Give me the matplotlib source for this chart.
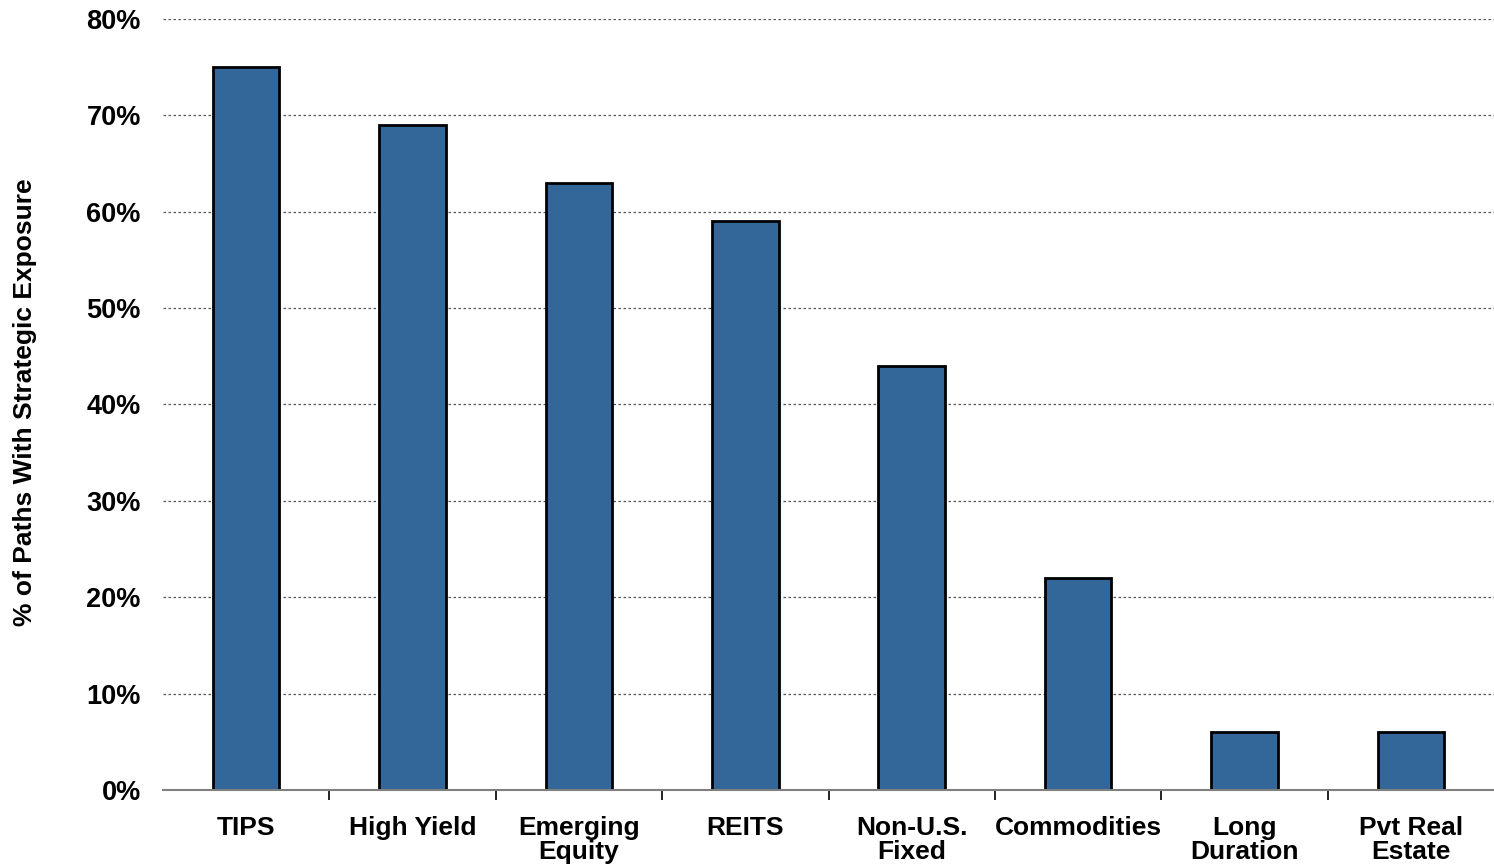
import matplotlib
matplotlib.use("Agg")
import matplotlib.pyplot as plt
from matplotlib.ticker import FixedLocator

categories = ["TIPS", "High Yield", "Emerging\nEquity", "REITS", "Non-U.S.\nFixed",
              "Commodities", "Long\nDuration", "Pvt Real\nEstate"]
values = [75, 69, 63, 59, 44, 22, 6, 6]
yticks = [0, 10, 20, 30, 40, 50, 60, 70, 80]
ytick_labels = ["0%", "10%", "20%", "30%", "40%", "50%", "60%", "70%", "80%"]
ylabel = "% of Paths With Strategic Exposure"

plt.rcParams['font.family'] = ['Liberation Sans', 'DejaVu Sans']

fig = plt.figure(figsize=(14.94, 8.67), dpi=100)
ax = fig.add_axes([163/1494, 1-790/867, 1-163/1494, (790-19)/867])

x = list(range(len(categories)))
ax.bar(x, values, width=0.4, color="#336699", edgecolor="black", linewidth=2, zorder=3)

ax.set_xlim(-0.5, len(categories) - 0.5)
ax.set_ylim(0, 80)
ax.set_yticks(yticks)
ax.set_yticklabels(ytick_labels, fontsize=19.5, fontweight="bold")
ax.tick_params(axis="y", length=0, pad=16)
ax.yaxis.grid(True, linestyle=(0, (2, 2)), color="#555555", linewidth=0.9, zorder=0)

ax.set_xticks(x)
ax.set_xticklabels(categories, fontsize=19, fontweight="bold", linespacing=1.0)
ax.tick_params(axis="x", length=0, pad=19)
ax.xaxis.set_minor_locator(FixedLocator([i + 0.5 for i in range(len(categories) - 1)]))
ax.tick_params(axis="x", which="minor", length=7, width=1.2, color="black", direction="out")

for s in ["top", "right", "left"]:
    ax.spines[s].set_visible(False)
ax.spines["bottom"].set_color("#808080")
ax.spines["bottom"].set_linewidth(1.5)
ax.spines["bottom"].set_zorder(4)

fig.text(25/1494, 1-402/867, ylabel, rotation=90, fontsize=19, fontweight="bold",
         ha="center", va="center")

fig.savefig("out.png", dpi=100)
